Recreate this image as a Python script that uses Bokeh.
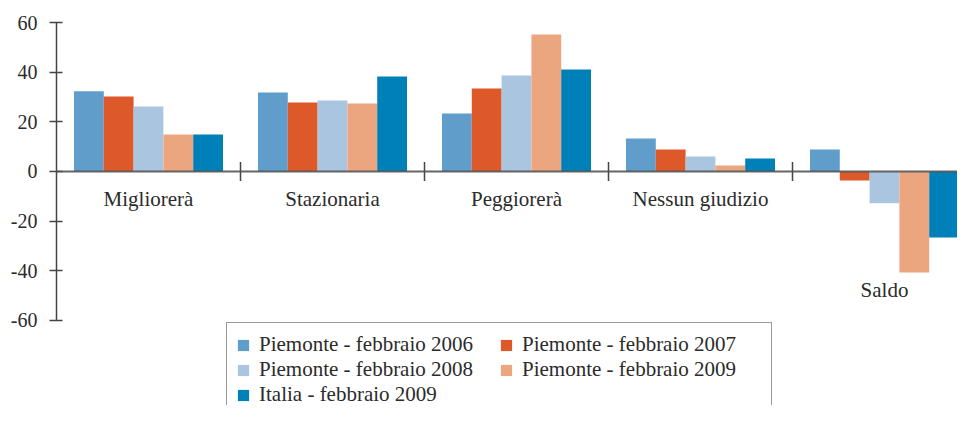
from bokeh.plotting import figure
from bokeh.models import Range1d, FixedTicker, Span, Legend, LegendItem, ColumnDataSource
from bokeh.core.properties import value
from bokeh.embed import file_html
from bokeh.resources import INLINE

categories = ["Migliorerà", "Stazionaria", "Peggiorerà", "Nessun giudizio", "Saldo"]
series_names = ["Piemonte - febbraio 2006", "Piemonte - febbraio 2007",
                "Piemonte - febbraio 2008", "Piemonte - febbraio 2009",
                "Italia - febbraio 2009"]
piemonte_2006 = [32.3, 31.8, 23.4, 13.3, 8.9]
piemonte_2007 = [30.2, 27.8, 33.4, 8.9, -3.6]
piemonte_2008 = [26.2, 28.6, 38.7, 6.0, -12.8]
piemonte_2009 = [14.9, 27.4, 55.2, 2.4, -40.7]
italia_2009 = [14.9, 38.3, 41.1, 5.2, -26.6]
y_ticks = [-60, -40, -20, 0, 20, 40, 60]

series = [piemonte_2006, piemonte_2007, piemonte_2008, piemonte_2009, italia_2009]
colors = ["#609DCA", "#DD5929", "#AAC5E0", "#ECA67F", "#0080B9"]

FONT = "Liberation Serif"
TXT = "#2b2b2b"

p = figure(width=957, height=405, output_backend="svg", toolbar_location=None,
           x_range=Range1d(0, 901 / 184), y_range=Range1d(-94.23, 68.86),
           min_border_left=56, min_border_right=0, min_border_top=0, min_border_bottom=0)
p.xaxis.visible = False
p.xgrid.visible = False
p.ygrid.visible = False
p.outline_line_color = None
p.background_fill_color = "white"
p.border_fill_color = "white"

bw = 0.162
renderers = []
xs = [i + 0.5 for i in range(len(categories))]
for k, (vals, col) in enumerate(zip(series, colors)):
    off = (k - 2) * bw
    src = ColumnDataSource(dict(x=[x + off for x in xs], top=vals, bottom=[0] * len(vals)))
    r = p.vbar(x="x", top="top", bottom="bottom", width=bw, source=src,
               fill_color=col, line_color=None)
    renderers.append(r)

# x axis line at zero, drawn over the bars
p.add_layout(Span(location=0, dimension="width", line_color="#555555",
                  line_width=2, line_alpha=0.9, level="overlay"))
# category separators
seps = list(range(1, len(categories)))
p.segment(x0=seps, x1=seps, y0=[3.8] * len(seps), y1=[-3.8] * len(seps),
          line_color="#444444", line_width=1.5)

# category labels
label_y = [min(0, min(s[i] for s in series)) for i in range(len(categories))]
label_y = [-11 if v == 0 else v - 7.2 for v in label_y]
p.text(x=xs, y=label_y, text=categories, text_align="center", text_baseline="middle",
       text_font=value(FONT), text_font_size="21px", text_color=TXT)

ax = p.yaxis[0]
ax.ticker = FixedTicker(ticks=y_ticks)
ax.bounds = (-60, 60)
ax.major_label_overrides = {t: str(t) for t in y_ticks}
ax.minor_tick_line_color = None
ax.major_tick_in = 6
ax.major_tick_out = 7
ax.axis_line_color = "#444444"
ax.axis_line_width = 1.5
ax.major_tick_line_color = "#444444"
ax.major_tick_line_width = 1.5
ax.major_label_standoff = 12
ax.major_label_text_font = FONT
ax.major_label_text_font_size = "20px"
ax.major_label_text_color = TXT

# legend filled column by column: order so rows read 2006|2007, 2008|2009, Italia
order = [0, 2, 4, 1, 3]
items = [LegendItem(label=series_names[i], renderers=[renderers[i]]) for i in order]
legend = Legend(items=items, ncols=2, location=(170, -12),
                label_text_font=FONT, label_text_font_size="21px", label_text_color=TXT,
                glyph_width=14, glyph_height=14, label_standoff=9, label_height=22,
                label_width=240, spacing=0, padding=9, margin=0,
                border_line_color="#333333", border_line_width=1.2,
                background_fill_color="white", background_fill_alpha=1.0)
p.add_layout(legend)

open("out.html", "w").write(file_html(p, INLINE))
